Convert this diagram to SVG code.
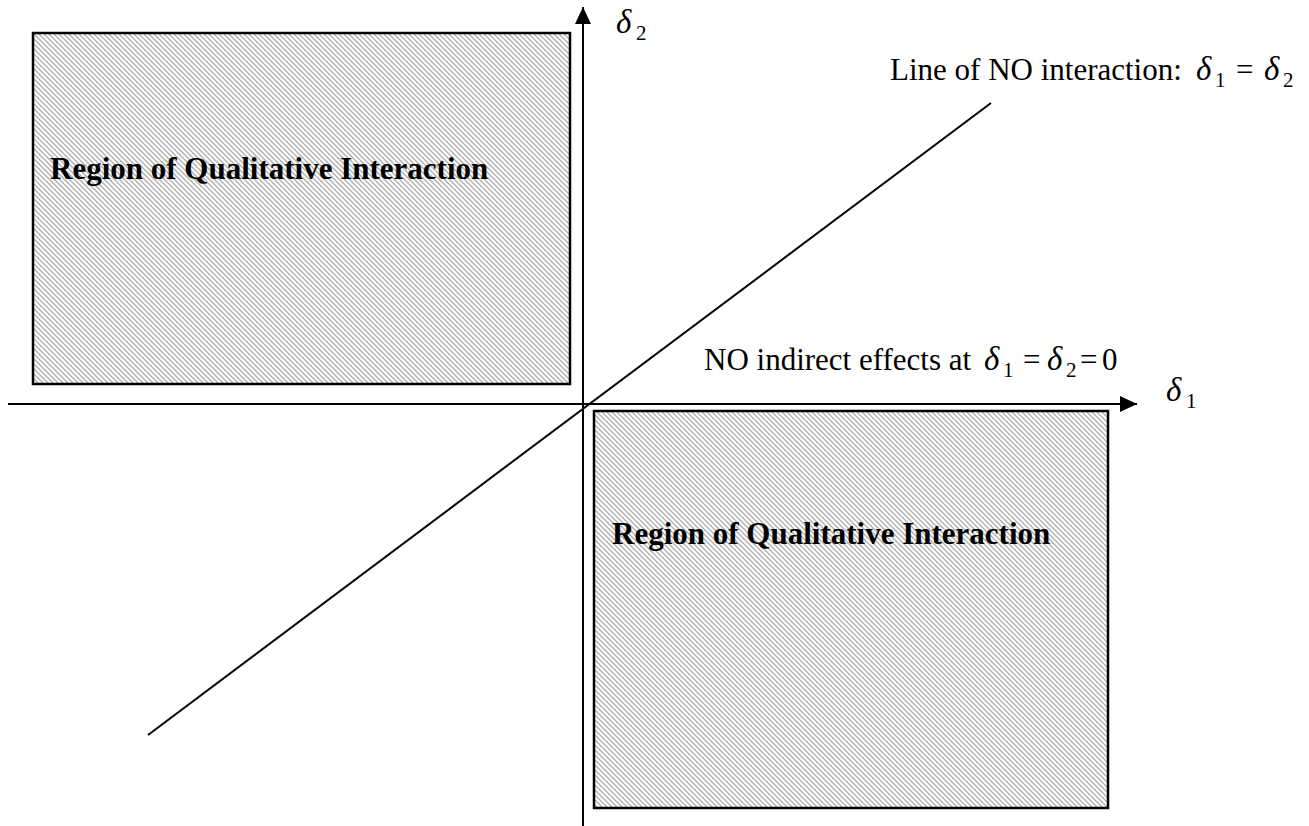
<svg xmlns="http://www.w3.org/2000/svg" width="1309" height="826" viewBox="0 0 1309 826">
<style>
.t{font-family:"Liberation Serif","Times New Roman",serif;font-size:31px;fill:#000}
.b{font-family:"Liberation Serif","Times New Roman",serif;font-size:31px;font-weight:bold;fill:#000}
.m{font-family:"Liberation Serif","Times New Roman",serif;font-size:33px;font-style:italic;fill:#000}
.s{font-family:"Liberation Serif","Times New Roman",serif;font-size:21px;fill:#000}
.region{fill:url(#hatch);stroke:#000;stroke-width:2.5}
.ax{stroke:#000;stroke-width:2;fill:none}
</style>
<defs>
<pattern id="hatch" patternUnits="userSpaceOnUse" width="5" height="5">
<rect width="5" height="5" fill="#fff"/>
<path d="M-1,-1 L6,6 M-1,4 L1,6 M4,-1 L6,1" stroke="#b0b0b0" stroke-width="1.4"/>
</pattern>
<marker id="arr" markerUnits="userSpaceOnUse" markerWidth="18" markerHeight="16" refX="17" refY="8" orient="auto">
<path d="M0,0 L17,8 L0,16 Z" fill="#000"/>
</marker>
</defs>
<g id="region-top-left">
<rect class="region" x="33" y="33" width="537" height="351"/>
<text class="b" x="50" y="179">Region of Qualitative Interaction</text>
</g>
<g id="region-bottom-right">
<rect class="region" x="594" y="411" width="514" height="397"/>
<text class="b" x="612" y="544">Region of Qualitative Interaction</text>
</g>
<g id="connectors">
<line class="ax" x1="583" y1="826" x2="583" y2="7" marker-end="url(#arr)"/>
<line class="ax" x1="8" y1="404" x2="1137" y2="404" marker-end="url(#arr)"/>
<line class="ax" x1="148" y1="735" x2="991" y2="103"/>
</g>
<g id="label-delta2">
<text class="m" x="616" y="33">δ</text>
<text class="s" x="636" y="40">2</text>
</g>
<g id="label-delta1">
<text class="m" x="1166" y="401">δ</text>
<text class="s" x="1186" y="408">1</text>
</g>
<g id="label-no-interaction">
<text class="t" x="890" y="80">Line of NO interaction:</text>
<text class="m" x="1196" y="80">δ</text>
<text class="s" x="1215" y="87">1</text>
<text class="t" x="1236" y="80">=</text>
<text class="m" x="1264" y="80">δ</text>
<text class="s" x="1283" y="87">2</text>
</g>
<g id="label-no-indirect">
<text class="t" x="704" y="370">NO indirect effects at</text>
<text class="m" x="984" y="370">δ</text>
<text class="s" x="1003" y="377">1</text>
<text class="t" x="1023" y="370">=</text>
<text class="m" x="1047" y="370">δ</text>
<text class="s" x="1066" y="377">2</text>
<text class="t" x="1080" y="370">=</text>
<text class="t" x="1102" y="370">0</text>
</g>
</svg>
